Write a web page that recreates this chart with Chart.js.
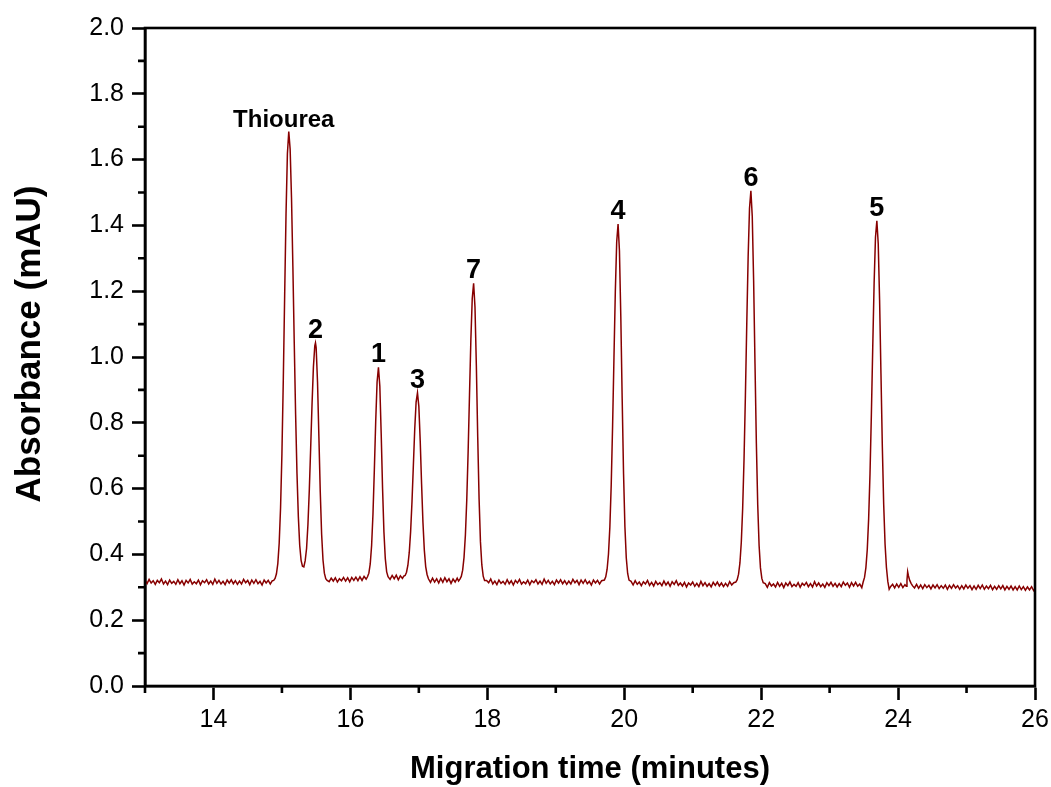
<!DOCTYPE html>
<html>
<head>
<meta charset="utf-8">
<script src="https://cdn.jsdelivr.net/npm/chart.js@4.4.1/dist/chart.umd.min.js"></script>
<style>
  html, body { margin: 0; padding: 0; background: #fff; }
  #wrap { width: 1051px; height: 787px; }
</style>
</head>
<body>
<div id="wrap"><canvas id="ep" width="1051" height="787"></canvas></div>
<script>
// trace pieces, [migration time (min), absorbance (mAU)]
const flatStart = [
  [13.00,0.322],[13.03,0.311],[13.06,0.324],[13.09,0.313],[13.12,0.320],[13.15,0.309],[13.18,0.321],[13.21,0.314],
  [13.24,0.325],[13.27,0.310],[13.30,0.319],[13.33,0.308],[13.36,0.322],[13.39,0.312],[13.42,0.318],[13.45,0.309],
  [13.48,0.323],[13.51,0.311],[13.54,0.320],[13.57,0.307],[13.60,0.321],[13.63,0.313],[13.66,0.324],[13.69,0.310],
  [13.72,0.317],[13.75,0.311],[13.78,0.322],[13.81,0.308],[13.84,0.320],[13.87,0.314],[13.90,0.323],[13.93,0.310],
  [13.96,0.319],[13.99,0.309],[14.02,0.325],[14.05,0.312],[14.08,0.321],[14.11,0.310],[14.14,0.318],[14.17,0.308],
  [14.20,0.322],[14.23,0.313],[14.26,0.323],[14.29,0.311],[14.32,0.320],[14.35,0.309],[14.38,0.319],[14.41,0.310],
  [14.44,0.324],[14.47,0.314],[14.50,0.321],[14.53,0.308],[14.56,0.322],[14.59,0.312],[14.62,0.323],[14.65,0.311],
  [14.68,0.318],[14.71,0.307],[14.74,0.322],[14.77,0.313],[14.80,0.321],[14.83,0.310],[14.86,0.320]
];
const peakThioureaAnd2 = [
  [14.88,0.321],[14.90,0.327],[14.92,0.341],[14.94,0.372],[14.96,0.434],[14.98,0.541],[15.00,0.706],[15.02,0.929],
  [15.04,1.187],[15.06,1.435],[15.08,1.618],[15.10,1.685],[15.12,1.632],[15.14,1.484],[15.16,1.275],[15.18,1.043],
  [15.20,0.825],[15.22,0.646],[15.24,0.514],[15.26,0.427],[15.28,0.382],[15.30,0.364],[15.32,0.362],[15.34,0.381],
  [15.36,0.418],[15.38,0.491],[15.40,0.596],[15.42,0.724],[15.44,0.857],[15.46,0.970],[15.48,1.034],[15.49,1.043],
  [15.50,1.029],[15.52,0.924],[15.54,0.758],[15.56,0.590],[15.58,0.461],[15.60,0.383],[15.62,0.343],[15.64,0.326],
  [15.66,0.321]
];
const flat2to1 = [
  [15.69,0.317],[15.72,0.328],[15.75,0.319],[15.78,0.329],[15.81,0.316],[15.84,0.326],[15.87,0.320],[15.90,0.330],
  [15.93,0.319],[15.96,0.329],[15.99,0.317],[16.02,0.330],[16.05,0.321],[16.08,0.331],[16.11,0.320],[16.14,0.332],
  [16.17,0.321],[16.20,0.333],[16.23,0.325]
];
const peak1 = [
  [16.25,0.332],[16.27,0.343],[16.29,0.371],[16.31,0.427],[16.33,0.523],[16.35,0.657],[16.37,0.805],[16.39,0.924],
  [16.41,0.969],[16.43,0.912],[16.45,0.767],[16.47,0.601],[16.49,0.468],[16.51,0.387],[16.53,0.347],[16.55,0.332]
];
const flat1to3 = [
  [16.58,0.324],[16.61,0.336],[16.64,0.326],[16.67,0.337],[16.70,0.323],[16.73,0.335],[16.76,0.327],[16.78,0.334]
];
const peak3 = [
  [16.80,0.336],[16.82,0.346],[16.84,0.367],[16.86,0.406],[16.88,0.470],[16.90,0.561],[16.92,0.671],[16.94,0.781],
  [16.96,0.863],[16.98,0.891],[17.00,0.850],[17.02,0.745],[17.04,0.614],[17.06,0.497],[17.08,0.413],[17.10,0.363],
  [17.12,0.339],[17.14,0.326]
];
const flat3to7 = [
  [17.17,0.315],[17.20,0.328],[17.23,0.316],[17.26,0.326],[17.29,0.313],[17.32,0.327],[17.35,0.315],[17.38,0.329],
  [17.41,0.317],[17.44,0.326],[17.47,0.312],[17.50,0.325],[17.53,0.316],[17.56,0.328],[17.58,0.319]
];
const peak7 = [
  [17.60,0.325],[17.62,0.333],[17.64,0.352],[17.66,0.391],[17.68,0.459],[17.70,0.566],[17.72,0.713],[17.74,0.886],
  [17.76,1.054],[17.78,1.178],[17.80,1.224],[17.82,1.152],[17.84,0.974],[17.86,0.757],[17.88,0.568],[17.90,0.438],
  [17.92,0.368],[17.94,0.334],[17.96,0.321]
];
const flat7to4 = [
  [17.99,0.321],[18.02,0.314],[18.05,0.325],[18.08,0.310],[18.11,0.319],[18.14,0.308],[18.17,0.322],[18.20,0.312],
  [18.23,0.318],[18.26,0.309],[18.29,0.323],[18.32,0.311],[18.35,0.320],[18.38,0.307],[18.41,0.321],[18.44,0.313],
  [18.47,0.324],[18.50,0.310],[18.53,0.317],[18.56,0.311],[18.59,0.322],[18.62,0.308],[18.65,0.320],[18.68,0.314],
  [18.71,0.323],[18.74,0.310],[18.77,0.319],[18.80,0.309],[18.83,0.325],[18.86,0.312],[18.89,0.321],[18.92,0.310],
  [18.95,0.318],[18.98,0.308],[19.01,0.322],[19.04,0.313],[19.07,0.323],[19.10,0.311],[19.13,0.320],[19.16,0.309],
  [19.19,0.319],[19.22,0.310],[19.25,0.324],[19.28,0.314],[19.31,0.321],[19.34,0.308],[19.37,0.322],[19.40,0.312],
  [19.43,0.323],[19.46,0.311],[19.49,0.318],[19.52,0.307],[19.55,0.322],[19.58,0.313],[19.61,0.321],[19.64,0.310],
  [19.67,0.320]
];
const peak4 = [
  [19.71,0.322],[19.73,0.332],[19.75,0.355],[19.77,0.401],[19.79,0.483],[19.81,0.612],[19.83,0.790],[19.85,0.998],
  [19.87,1.200],[19.89,1.350],[19.91,1.404],[19.93,1.324],[19.95,1.123],[19.97,0.873],[19.99,0.646],[20.01,0.484],
  [20.03,0.389],[20.05,0.342],[20.07,0.322]
];
const flat4to6 = [
  [20.10,0.318],[20.13,0.307],[20.16,0.320],[20.19,0.309],[20.22,0.316],[20.25,0.305],[20.28,0.317],[20.31,0.310],
  [20.34,0.321],[20.37,0.306],[20.40,0.315],[20.43,0.304],[20.46,0.318],[20.49,0.308],[20.52,0.314],[20.55,0.305],
  [20.58,0.319],[20.61,0.307],[20.64,0.316],[20.67,0.303],[20.70,0.317],[20.73,0.309],[20.76,0.320],[20.79,0.306],
  [20.82,0.313],[20.85,0.304],[20.88,0.315],[20.91,0.301],[20.94,0.313],[20.97,0.307],[21.00,0.316],[21.03,0.303],
  [21.06,0.312],[21.09,0.302],[21.12,0.318],[21.15,0.305],[21.18,0.314],[21.21,0.303],[21.24,0.311],[21.27,0.301],
  [21.30,0.315],[21.33,0.306],[21.36,0.316],[21.39,0.304],[21.42,0.313],[21.45,0.302],[21.48,0.312],[21.51,0.303],
  [21.54,0.317],[21.57,0.307],[21.60,0.314]
];
const peak6 = [
  [21.63,0.316],[21.65,0.323],[21.67,0.340],[21.69,0.374],[21.71,0.437],[21.73,0.540],[21.75,0.690],[21.77,0.884],
  [21.79,1.102],[21.81,1.305],[21.83,1.452],[21.85,1.505],[21.87,1.428],[21.89,1.233],[21.91,0.980],[21.93,0.738],
  [21.95,0.550],[21.97,0.427],[21.99,0.359],[22.01,0.327],[22.03,0.314]
];
const flat6to5 = [
  [22.06,0.311],[22.09,0.300],[22.12,0.314],[22.15,0.304],[22.18,0.310],[22.21,0.301],[22.24,0.315],[22.27,0.303],
  [22.30,0.312],[22.33,0.299],[22.36,0.313],[22.39,0.305],[22.42,0.316],[22.45,0.302],[22.48,0.309],[22.51,0.303],
  [22.54,0.314],[22.57,0.300],[22.60,0.312],[22.63,0.306],[22.66,0.315],[22.69,0.302],[22.72,0.311],[22.75,0.301],
  [22.78,0.317],[22.81,0.304],[22.84,0.313],[22.87,0.302],[22.90,0.310],[22.93,0.300],[22.96,0.314],[22.99,0.305],
  [23.02,0.315],[23.05,0.303],[23.08,0.312],[23.11,0.301],[23.14,0.311],[23.17,0.302],[23.20,0.316],[23.23,0.306],
  [23.26,0.313],[23.29,0.300],[23.32,0.314],[23.35,0.304],[23.38,0.315],[23.41,0.303],[23.44,0.310],[23.47,0.299]
];
const peak5 = [
  [23.49,0.316],[23.51,0.330],[23.53,0.360],[23.55,0.415],[23.57,0.508],[23.59,0.645],[23.61,0.826],[23.63,1.030],
  [23.65,1.224],[23.67,1.364],[23.69,1.414],[23.71,1.345],[23.73,1.174],[23.75,0.950],[23.77,0.728],[23.79,0.551],
  [23.81,0.431],[23.83,0.360],[23.85,0.318],[23.87,0.294],[23.89,0.302]
];
const flatEnd = [
  [23.92,0.309],[23.95,0.298],[23.98,0.310],[24.01,0.300],[24.04,0.311],[24.07,0.299],[24.10,0.308],[24.12,0.303],
  [24.13,0.322],[24.14,0.347],[24.15,0.336],[24.17,0.321],[24.19,0.312],[24.21,0.305],[24.24,0.298],[24.27,0.309],
  [24.30,0.297],[24.33,0.307],[24.36,0.296],[24.39,0.308],[24.42,0.299],[24.45,0.306],[24.48,0.295],[24.51,0.307],
  [24.54,0.298],[24.57,0.308],[24.60,0.296],[24.63,0.305],[24.66,0.297],[24.69,0.307],[24.72,0.294],[24.75,0.306],
  [24.78,0.297],[24.81,0.308],[24.84,0.298],[24.87,0.305],[24.90,0.294],[24.93,0.305],[24.96,0.295],[24.99,0.307],
  [25.02,0.297],[25.05,0.305],[25.08,0.293],[25.11,0.304],[25.14,0.294],[25.17,0.306],[25.20,0.296],[25.23,0.307],
  [25.26,0.294],[25.29,0.304],[25.32,0.296],[25.35,0.306],[25.38,0.293],[25.41,0.303],[25.44,0.294],[25.47,0.305],
  [25.50,0.295],[25.53,0.305],[25.56,0.292],[25.59,0.303],[25.62,0.294],[25.65,0.304],[25.68,0.292],[25.71,0.302],
  [25.74,0.292],[25.77,0.304],[25.80,0.293],[25.83,0.302],[25.86,0.291],[25.89,0.301],[25.92,0.292],[25.95,0.302],
  [25.98,0.290],[26.00,0.296]
];

// peak annotations (apex time, apex absorbance)
const peakNames = ['Thiourea', '2', '1', '3', '7', '4', '6', '5'];
const peakTimes = [15.10, 15.49, 16.41, 16.98, 17.80, 19.91, 21.85, 23.69];
const peakHeights = [1.685, 1.043, 0.969, 0.891, 1.224, 1.404, 1.505, 1.414];

const xMajorTicks = [14, 16, 18, 20, 22, 24, 26];
const xMinorTicks = [13, 15, 17, 19, 21, 23, 25];
const yMajorTicks = [0, 0.2, 0.4, 0.6, 0.8, 1.0, 1.2, 1.4, 1.6, 1.8, 2.0];
const yMinorTicks = [0.1, 0.3, 0.5, 0.7, 0.9, 1.1, 1.3, 1.5, 1.7, 1.9];

const trace = [].concat(
  flatStart, peakThioureaAnd2, flat2to1, peak1, flat1to3, peak3, flat3to7, peak7,
  flat7to4, peak4, flat4to6, peak6, flat6to5, peak5, flatEnd
).map(([t, a]) => ({ x: t, y: a }));

const FONT = '"Liberation Sans", Arial, sans-serif';
const AXIS_W = 2.6;

// box frame, minor ticks, peak names and axis titles
const decorations = {
  id: 'decorations',
  afterDraw(chart) {
    const { ctx, chartArea: a, scales: { x, y } } = chart;
    ctx.save();
    ctx.strokeStyle = '#000';
    ctx.lineWidth = AXIS_W;
    ctx.strokeRect(a.left, a.top, a.right - a.left, a.bottom - a.top);

    ctx.beginPath();
    xMinorTicks.forEach(v => {
      const px = x.getPixelForValue(v);
      ctx.moveTo(px, a.bottom);
      ctx.lineTo(px, a.bottom + 7);
    });
    yMinorTicks.forEach(v => {
      const py = y.getPixelForValue(v);
      ctx.moveTo(a.left, py);
      ctx.lineTo(a.left - 7, py);
    });
    ctx.stroke();

    ctx.fillStyle = '#000';
    ctx.textAlign = 'center';
    ctx.textBaseline = 'alphabetic';
    peakNames.forEach((name, i) => {
      ctx.font = name.length > 1 ? 'bold 24px ' + FONT : 'bold 27px ' + FONT;
      const dx = name.length > 1 ? -5 : 0;
      ctx.fillText(name, x.getPixelForValue(peakTimes[i]) + dx, y.getPixelForValue(peakHeights[i]) - 5);
    });

    ctx.font = 'bold 31px ' + FONT;
    ctx.fillText('Migration time (minutes)', (a.left + a.right) / 2, 778);

    ctx.font = 'bold 35px ' + FONT;
    ctx.translate(40, 344);
    ctx.rotate(-Math.PI / 2);
    ctx.fillText('Absorbance (mAU)', 0, 0);
    ctx.restore();
  }
};

new Chart(document.getElementById('ep'), {
  type: 'line',
  data: {
    datasets: [{
      data: trace,
      borderColor: '#870000',
      borderWidth: 1.5,
      pointRadius: 0,
      tension: 0,
      fill: false
    }]
  },
  options: {
    responsive: false,
    animation: false,
    events: [],
    layout: { padding: { top: 28, right: 16, left: 0, bottom: 0 } },
    plugins: { legend: { display: false }, tooltip: { enabled: false } },
    scales: {
      x: {
        type: 'linear',
        min: 13,
        max: 26,
        afterBuildTicks: s => { s.ticks = xMajorTicks.map(v => ({ value: v })); },
        afterFit: s => { s.height = 101; s.paddingLeft = 0; s.paddingRight = 0; },
        ticks: { color: '#000', font: { family: FONT, size: 25 }, padding: 5, maxRotation: 0, callback: v => String(v) },
        grid: { drawOnChartArea: false, tickLength: 14, tickWidth: AXIS_W, tickColor: '#000' },
        border: { display: true, color: '#000', width: AXIS_W }
      },
      y: {
        min: 0,
        max: 2,
        afterBuildTicks: s => { s.ticks = yMajorTicks.map(v => ({ value: v })); },
        afterFit: s => { s.width = 145; s.paddingTop = 0; s.paddingBottom = 0; },
        ticks: { color: '#000', font: { family: FONT, size: 25 }, padding: 8, callback: v => v.toFixed(1) },
        grid: { drawOnChartArea: false, tickLength: 13, tickWidth: AXIS_W, tickColor: '#000' },
        border: { display: true, color: '#000', width: AXIS_W }
      }
    }
  },
  plugins: [decorations]
});
</script>
</body>
</html>
